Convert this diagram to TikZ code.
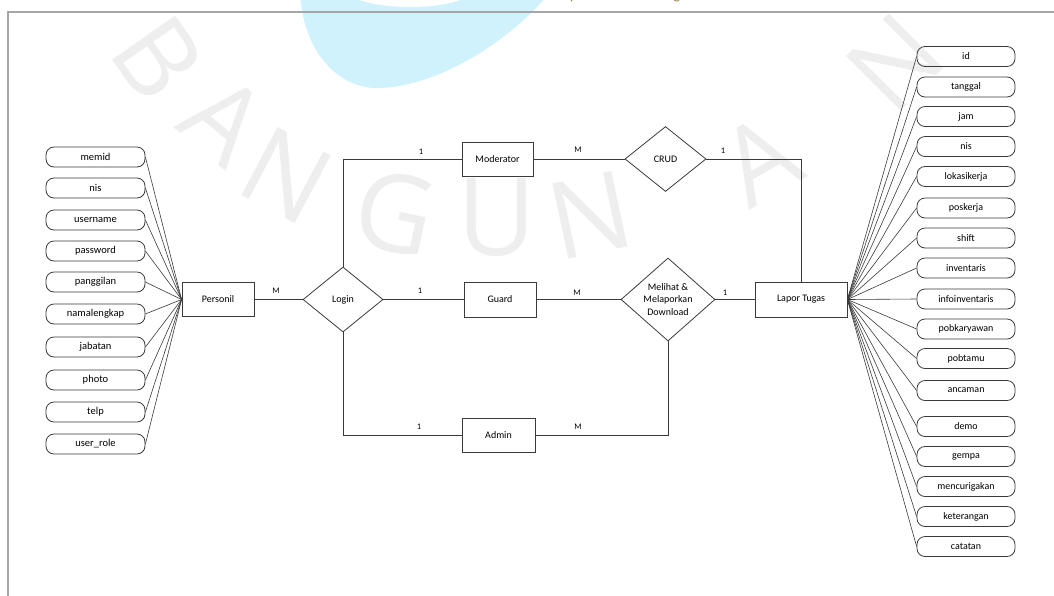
\documentclass[tikz,border=0pt]{standalone}
\usepackage{fontspec}
\setmainfont{Carlito}
\newfontfamily\wmfont{Open Sans}
\usetikzlibrary{shapes.geometric}

\definecolor{linegray}{HTML}{3A3A3A}
\definecolor{framegray}{HTML}{A6A6A6}
\definecolor{wmgray}{HTML}{EEEEEE}
\definecolor{logocyan}{HTML}{CFF2FD}
\definecolor{captionolive}{HTML}{8C7B3C}

\tikzset{
  entity/.style={draw=linegray, line width=0.8pt, rectangle, minimum width=72pt,
    minimum height=34pt, inner sep=0pt, font=\fontsize{10}{12}\selectfont},
  relation/.style={draw=linegray, line width=0.8pt, diamond, inner sep=0pt,
    align=center, font=\fontsize{10}{12.5}\selectfont},
  attrL/.style={draw=linegray, line width=0.8pt, rectangle, rounded corners=8pt,
    minimum width=99pt, minimum height=20pt, inner sep=0pt,
    font=\fontsize{10.5}{12}\selectfont},
  attrR/.style={attrL, minimum width=98pt, font=\fontsize{10}{12}\selectfont},
  link/.style={draw=linegray, line width=0.8pt},
  attrlink/.style={draw=linegray, line width=0.6pt},
  card/.style={font=\fontsize{8.5}{10}\selectfont, inner sep=0pt},
  wm/.style={text=wmgray, font=\wmfont\fontsize{108}{108}\selectfont, inner sep=0pt},
}

\begin{document}
\begin{tikzpicture}[x=1pt,y=-1pt]
\useasboundingbox (0,0) rectangle (1054,595);
\clip (0,0) rectangle (1054,595);

% logo blob and caption fragment at the top edge
\fill[logocyan] (300,-5) .. controls (305,60) and (345,90) .. (380,88)
  .. controls (440,86) and (510,40) .. (548,-5) -- cycle;
\fill[white] (410,-10) ellipse [x radius=62, y radius=17];
\node[text=captionolive, font=\fontsize{14}{14}\selectfont, anchor=base west, inner sep=0pt] (capp) at (570,-0.5) {p};
\node[text=captionolive, font=\fontsize{14}{14}\selectfont, anchor=base, inner sep=0pt] (capg) at (677,-0.5) {g};

% watermark lettering
\node[wm, rotate=-55] (wm1) at (158,58) {B};
\node[wm, rotate=-40] (wm2) at (225,120) {A};
\node[wm, rotate=-28] (wm3) at (287,176) {N};
\node[wm, rotate=-12] (wm4) at (395,213) {G};
\node[wm, rotate=0]   (wm5) at (497,217) {U};
\node[wm, rotate=12]  (wm6) at (590,215) {N};
\node[wm, rotate=30]  (wm7) at (760,160) {A};
\node[wm, rotate=45]  (wm8) at (895,62) {N};

% page frame
\draw[framegray, line width=1.5pt] (8,600) -- (8,12) -- (1060,12);

% entities and relationships
\node[entity] (personil) at (218,299.5) {Personil};
\node[relation, minimum width=80pt, minimum height=65pt, aspect=1.23] (login) at (343,299.5) {Login};
\node[entity, minimum width=71pt] (moderator) at (497.5,159) {Moderator};
\node[entity, minimum height=35pt] (guard) at (500,299.5) {Guard};
\node[entity, minimum width=73pt] (admin) at (498.5,435) {Admin};
\node[relation, minimum width=81pt, minimum height=65pt, aspect=1.25] (crud) at (665.5,159) {CRUD};
\node[relation, minimum width=94pt, minimum height=83pt, aspect=1.13] (lihat) at (668,299.5) {Melihat \&\\Melaporkan\\Download};
\node[entity, minimum width=92pt, minimum height=35pt] (lapor) at (801,299.5) {Lapor Tugas};

% relationship lines
\draw[link] (personil.east) -- (login.west);
\draw[link] (login.north) |- (moderator.west);
\draw[link] (login.east) -- (guard.west);
\draw[link] (login.south) |- (admin.west);
\draw[link] (moderator.east) -- (crud.west);
\draw[link] (guard.east) -- (lihat.west);
\draw[link] (admin.east) -| (lihat.south);
\draw[link] (crud.east) -| (lapor.north);
\draw[link] (lihat.east) -- (lapor.west);

% cardinalities
\node[card] (cPL) at (276,291) {M};
\node[card] (cLM) at (421,152) {1};
\node[card] (cMC) at (578,150) {M};
\node[card] (cCL) at (723,151) {1};
\node[card] (cLG) at (420,291) {1};
\node[card] (cGD) at (577,293) {M};
\node[card] (cDL) at (725,293) {1};
\node[card] (cLA) at (419,427) {1};
\node[card] (cAD) at (578,427) {M};

% attributes of Personil
\foreach \nm/\txt/\y in {memid/memid/157, nis/nis/188, username/username/220,
    password/password/251, panggilan/panggilan/282, namalengkap/namalengkap/314,
    jabatan/jabatan/347, photo/photo/380, telp/telp/412, userrole/user\_role/444}{
  \node[attrL] (p-\nm) at (95.5,\y) {\txt};
  \draw[attrlink] (p-\nm.east) -- (personil.west);
}

% attributes of Lapor Tugas
\foreach \nm/\y in {id/56.5, tanggal/87, jam/116.5, nis/146.5, lokasikerja/176.5,
    poskerja/208, shift/238, inventaris/268, infoinventaris/299, pobkaryawan/329,
    pobtamu/358.5, ancaman/390.5, demo/426.5, gempa/456.5, mencurigakan/486.5,
    keterangan/516.5, catatan/546.5}{
  \node[attrR] (l-\nm) at (966,\y) {\nm};
  \draw[attrlink] (lapor.east) -- (l-\nm.west);
}
\end{tikzpicture}
\end{document}
